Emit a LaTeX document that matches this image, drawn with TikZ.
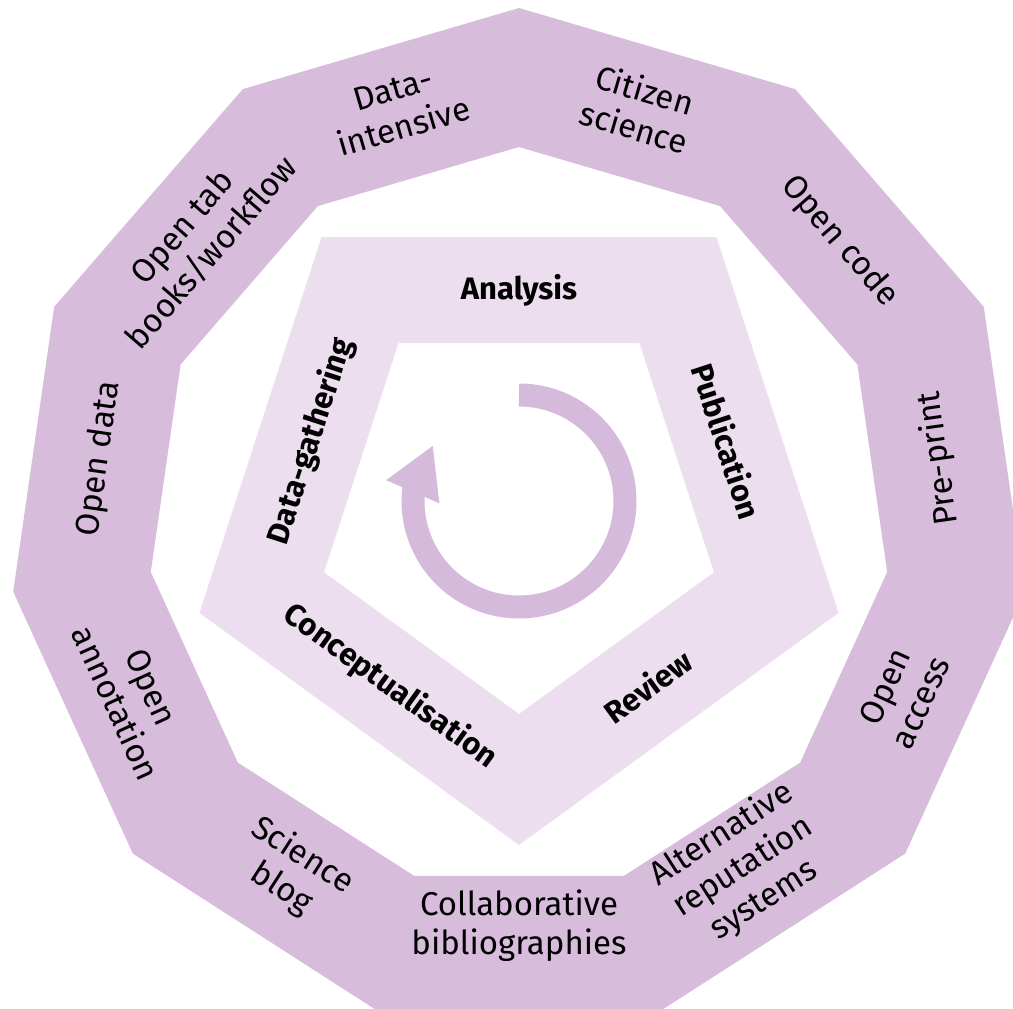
\documentclass[tikz,border=0pt]{standalone}
\usepackage{fontspec}
\setmainfont{Fira Sans}

\definecolor{ringlilac}{RGB}{215,188,220}
\definecolor{pentlilac}{RGB}{236,222,239}
\definecolor{arrowlilac}{RGB}{214,186,219}

\tikzset{
  outerlabel/.style={font=\fontsize{33}{39}\selectfont, align=center, inner sep=0pt},
  phaselabel/.style={font=\bfseries\fontsize{31}{36}\selectfont, inner sep=0pt}
}

\begin{document}
\begin{tikzpicture}[x=1pt, y=1pt]
\useasboundingbox (-519,-490) rectangle (494,519);

% outer ring of open practices
\fill[ringlilac, even odd rule]
  (90:511) \foreach \k in {1,...,10} { -- (90+\k*32.7273:511) } -- cycle
  (90:372) \foreach \k in {1,...,10} { -- (90+\k*32.7273:372) } -- cycle;

% research cycle
\fill[pentlilac, even odd rule]
  ([shift={(0,10)}]270:336) \foreach \k in {1,...,4} { -- ([shift={(0,10)}]270+\k*72:336) } -- cycle
  ([shift={(0,10)}]270:205) \foreach \k in {1,...,4} { -- ([shift={(0,10)}]270+\k*72:205) } -- cycle;

% circular arrow
\coordinate (arrowend) at ([shift={(0,18)}]174:106);
\draw[arrowlilac, line width=23pt]
  (0,18) ++(90:106) arc[start angle=90, end angle=-187, radius=106];
\fill[arrowlilac, shift={(arrowend)}, rotate=66.5] (-2,-29) -- (48,0) -- (-2,29) -- cycle;

\node[outerlabel, rotate=16.36] (dataint) at (106.36:428) {Data-\\intensive};
\node[outerlabel, rotate=-16.36] (citizen) at (73.64:428) {Citizen\\science};
\node[outerlabel, rotate=-49.09] (code) at (40.91:424) {Open code};
\node[outerlabel, rotate=98.18] (preprint) at (8.18:424) {Pre-print};
\node[outerlabel, rotate=65.45] (access) at (-24.55:422) {Open\\access};
\node[outerlabel, rotate=32.73] (altrep) at (-57.27:414) {Alternative\\reputation\\systems};
\node[outerlabel] (collab) at (270:407) {Collaborative\\bibliographies};
\node[outerlabel, rotate=-32.73] (blog) at (237.27:420) {Science\\blog};
\node[outerlabel, rotate=-65.45] (annot) at (204.55:424) {Open\\annotation};
\node[outerlabel, rotate=81.82] (data) at (171.82:424) {Open data};
\node[outerlabel, rotate=49.09] (tab) at (139.09:426) {Open tab\\books/workflow};

\node[phaselabel] (analysis) at ([shift={(0,10)}]90:219) {Analysis};
\node[phaselabel, rotate=-72] (publication) at ([shift={(0,10)}]18:219) {Publication};
\node[phaselabel, rotate=36] (review) at ([shift={(0,10)}]-54:219) {Review};
\node[phaselabel, rotate=-36] (concept) at ([shift={(0,10)}]-126:219) {Conceptualisation};
\node[phaselabel, rotate=72] (gathering) at ([shift={(0,10)}]162:219) {Data-gathering};
\end{tikzpicture}
\end{document}
